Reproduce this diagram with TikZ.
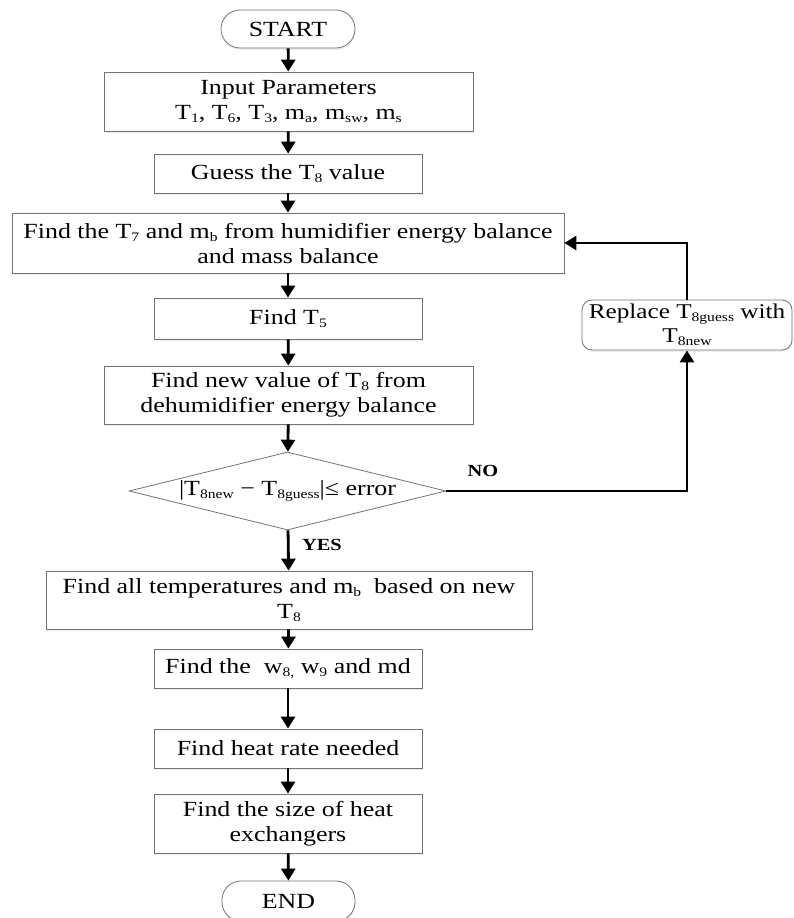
\documentclass[tikz,border=0pt]{standalone}
\usepackage{fontspec}
\setmainfont[FakeStretch=1.2]{Liberation Serif}
\usetikzlibrary{arrows.meta,shapes.geometric,shadows}
\newcommand\sbx[1]{\raisebox{-3pt}{\fontsize{13}{13}\selectfont #1}}
\begin{document}
\begin{tikzpicture}[x=1pt,y=-1pt,
  every node/.style={font=\fontsize{21.6}{25}\selectfont, inner sep=2pt, align=center},
  box/.style={draw=black!55, line width=0.8pt, fill=white, drop shadow={shadow xshift=0.5pt, shadow yshift=-2pt, fill=black!12}},
  term/.style={box, rounded corners=19pt},
  arr/.style={line width=2.8pt, -{Triangle[width=14pt,length=12pt]}},
  lbl/.style={font=\fontsize{17}{17}\selectfont\bfseries}
]
\useasboundingbox (0,0) rectangle (793,918);

\node[term, minimum width=134pt, minimum height=38pt] (start) at (288,29) {START};
\node[box, minimum width=369pt, minimum height=59pt] (input) at (288.5,101.5)
  {Input Parameters\\T\sbx{1}, T\sbx{6}, T\sbx{3}, m\sbx{a}, m\sbx{sw}, m\sbx{s}};
\node[box, minimum width=268pt, minimum height=39pt] (guess) at (288,173.5) {Guess the T\sbx{8} value};
\node[box, minimum width=552pt, minimum height=60pt] (t7) at (288,243)
  {Find the T\sbx{7} and m\sbx{b} from humidifier energy balance\\and mass balance};
\node[box, minimum width=268pt, minimum height=41pt] (t5) at (288,318.5) {Find T\sbx{5}};
\node[box, minimum width=369pt, minimum height=58pt] (newval) at (288.5,395)
  {Find new value of T\sbx{8} from\\dehumidifier energy balance};
\node[diamond, draw=black!55, line width=0.8pt, fill=white, aspect=4, minimum width=317pt, minimum height=78pt, inner sep=0pt] (dec) at (287.5,491)
  {\makebox[190pt]{|T\sbx{8new} − T\sbx{8guess}|≤ error}};
\node[box, minimum width=486pt, minimum height=58pt] (all) at (289,600)
  {Find all temperatures and m\sbx{b}\ \ based on new\\T\sbx{8}};
\node[box, minimum width=268pt, minimum height=39pt] (w8) at (288,668.5) {Find the\ \ w\sbx{8,} w\sbx{9} and md};
\node[box, minimum width=268pt, minimum height=39pt] (heat) at (288,748.5) {Find heat rate needed};
\node[box, minimum width=268pt, minimum height=59pt] (size) at (288,823.5) {Find the size of heat\\exchangers};
\node[term, minimum width=133pt, minimum height=40pt] (end) at (288.5,901) {END};
\node[box, rounded corners=10pt, minimum width=210pt, minimum height=50pt, inner sep=1pt,
  font=\fontsize{21}{24}\selectfont] (replace) at (687,325)
  {Replace T\sbx{8guess} with\\T\sbx{8new}};

\node[lbl] (no) at (483,471) {NO};
\node[lbl] (yes) at (322,545) {YES};

\draw[arr] (start) -- (input);
\draw[arr] (input) -- (guess);
\draw[arr] (guess) -- (t7);
\draw[arr] (t7) -- (t5);
\draw[arr] (t5) -- (newval);
\draw[arr] (newval) -- (dec);
\draw[arr] (dec) -- (all);
\draw[arr] (all) -- (w8);
\draw[arr] (w8) -- (heat);
\draw[arr] (heat) -- (size);
\draw[arr] (size) -- (end);
\draw[arr] (dec.east) -| (replace.south);
\draw[arr] (replace.north) |- (t7.east);
\end{tikzpicture}
\end{document}
